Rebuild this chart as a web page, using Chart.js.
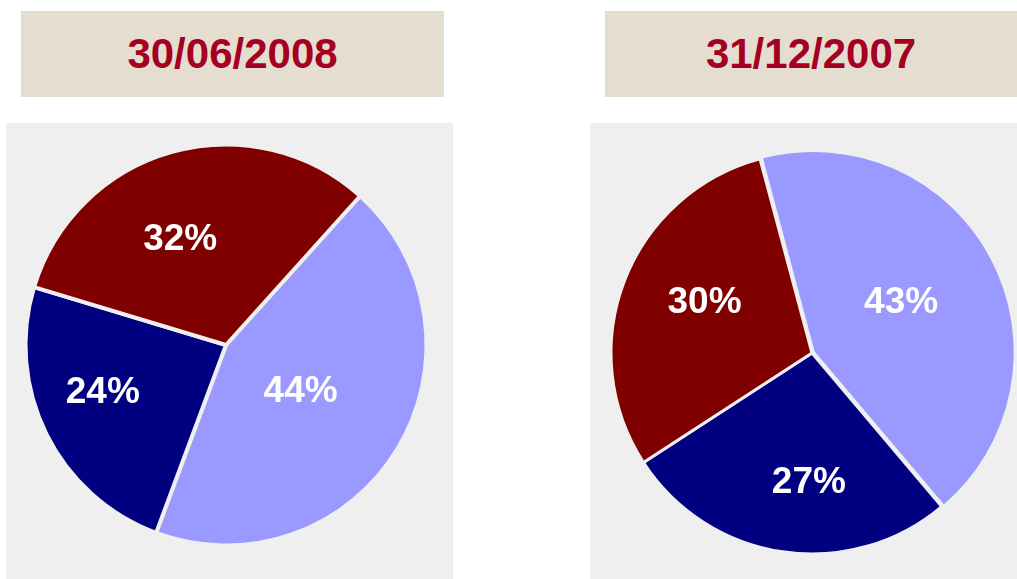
<!DOCTYPE html>
<html>
<head>
<meta charset="utf-8">
<script src="https://cdn.jsdelivr.net/npm/chart.js@4"></script>
<style>
  body { margin: 0; width: 1017px; height: 579px; overflow: hidden; background: #fff; position: relative; font-family: "Liberation Sans", Arial, sans-serif; }
  .title { position: absolute; top: 11px; height: 86px; background: #e5ded0; color: #a50021; font-weight: bold; font-size: 42px; display: flex; align-items: center; justify-content: center; }
  .panel { position: absolute; top: 123px; height: 456px; background: #efefef; }
  .pie { position: absolute; width: 420px; height: 420px; }
</style>
</head>
<body>
<div class="title" style="left:21px;width:423px;">30/06/2008</div>
<div class="title" style="left:605px;width:412px;">31/12/2007</div>
<div class="panel" style="left:6px;width:447px;"></div>
<div class="panel" style="left:590px;width:427px;"></div>
<div class="pie" style="left:16px;top:135px;"><canvas id="pie-2008"></canvas></div>
<div class="pie" style="left:602px;top:143px;"><canvas id="pie-2007"></canvas></div>
<script>
// slices listed clockwise from the light blue one
const sliceColors = ["#9999ff", "#000080", "#800000"];
const values2008 = [44, 24, 32];
const values2007 = [43, 27, 30];

const sliceLabels = {
  id: "sliceLabels",
  afterDatasetsDraw(chart, args, opts) {
    const ctx = chart.ctx;
    const meta = chart.getDatasetMeta(0);
    const data = chart.data.datasets[0].data;
    ctx.save();
    ctx.fillStyle = "#ffffff";
    ctx.font = 'bold 37px "Liberation Sans", Arial, sans-serif';
    ctx.textAlign = "center";
    ctx.textBaseline = "middle";
    meta.data.forEach((arc, i) => {
      const p = arc.getProps(["x", "y", "startAngle", "endAngle", "outerRadius"], true);
      const mid = (p.startAngle + p.endAngle) / 2 + (opts.shift[i] * Math.PI) / 180;
      const r = p.outerRadius * opts.dist[i];
      ctx.fillText(data[i] + "%", p.x + Math.cos(mid) * r, p.y + Math.sin(mid) * r);
    });
    ctx.restore();
  },
};

function makePie(id, values, rotation, radius, border, offsets, dist, shift) {
  return new Chart(document.getElementById(id), {
    type: "pie",
    data: {
      labels: ["a", "b", "c"],
      datasets: [
        {
          data: values,
          backgroundColor: sliceColors,
          borderColor: "#efefef",
          borderWidth: border,
          offset: offsets,
        },
      ],
    },
    options: {
      responsive: true,
      maintainAspectRatio: false,
      animation: false,
      events: [],
      rotation: rotation,
      radius: radius,
      layout: { padding: 0 },
      plugins: {
        legend: { display: false },
        tooltip: { enabled: false },
        sliceLabels: { dist: dist, shift: shift },
      },
    },
    plugins: [sliceLabels],
  });
}

makePie("pie-2008", values2008, 42, 200.5, 4, [0, 0, 0], [0.44, 0.66, 0.57], [1, 5, -8]);
makePie("pie-2007", values2007, -15, 201, 3, [6, 0, 0], [0.51, 0.645, 0.59], [-2, -7, 4]);
</script>
</body>
</html>
